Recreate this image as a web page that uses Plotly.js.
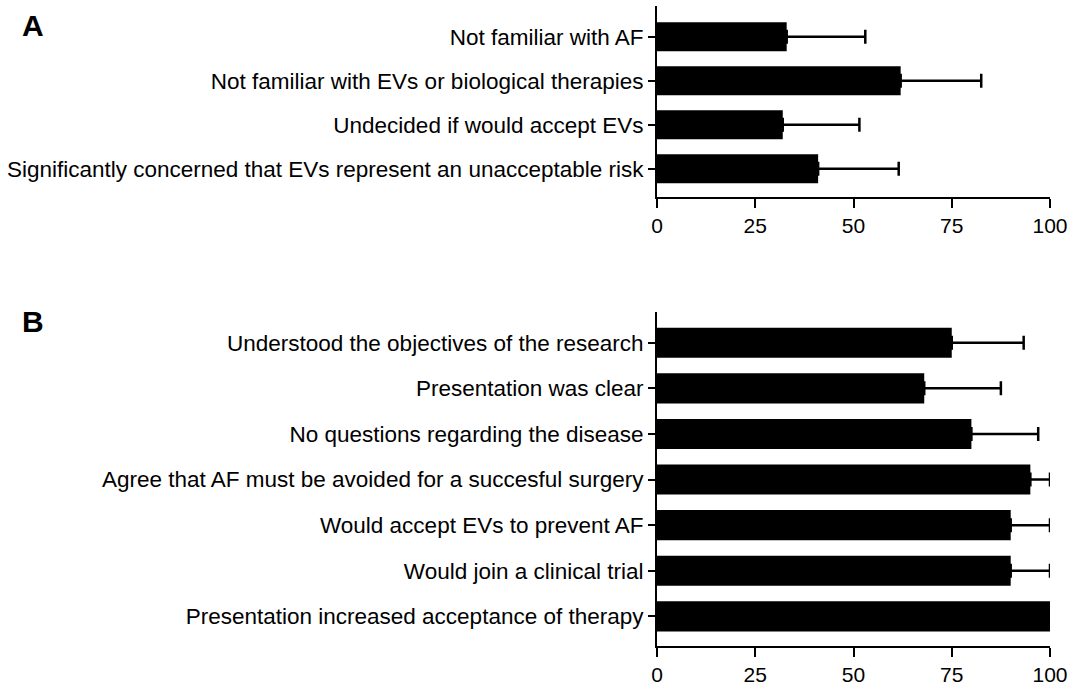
<!DOCTYPE html>
<html>
<head>
<meta charset="utf-8">
<script src="https://cdn.plot.ly/plotly-3.0.1.min.js"></script>
<style>html,body{margin:0;padding:0;background:#fff;}#chart{width:1074px;height:686px;}</style>
</head>
<body>
<div id="chart"></div>
<script>
// Panel A data
const catsA = [
  "Not familiar with AF",
  "Not familiar with EVs or biological therapies",
  "Undecided if would accept EVs",
  "Significantly concerned that EVs represent an unacceptable risk"
];
const valuesA = [33, 62, 32, 41];
const errorsA = [20, 20.5, 19.5, 20.5];

// Panel B data
const catsB = [
  "Understood the objectives of the research",
  "Presentation was clear",
  "No questions regarding the disease",
  "Agree that AF must be avoided for a succesful surgery",
  "Would accept EVs to prevent AF",
  "Would join a clinical trial",
  "Presentation increased acceptance of therapy"
];
const valuesB = [75, 68, 80, 95, 90, 90, 100];
const errorsB = [18.3, 19.5, 17, 5, 10, 10, 0];

const xTicks = [0, 25, 50, 75, 100];

const FAM = "'Liberation Sans', Arial, sans-serif";
const labelFont = {family: FAM, size: 22.5, color: "#000"};
const tickFont = {family: FAM, size: 21, color: "#000"};

function barTrace(cats, vals, errs, xa, ya) {
  return {
    type: "bar", orientation: "h",
    x: vals, y: cats, xaxis: xa, yaxis: ya,
    width: 0.66,
    marker: {color: "#000", line: {width: 0}},
    error_x: {type: "data", array: errs, symmetric: false, arrayminus: errs.map(() => 0),
              color: "#000", thickness: 2.5, width: 7},
    hoverinfo: "none", showlegend: false
  };
}

const xaxisBase = {
  range: [0, 100], tickvals: xTicks, ticktext: xTicks.map(String),
  showgrid: false, zeroline: false, showline: true, linecolor: "#000", linewidth: 2,
  ticks: "outside", ticklen: 9, tickwidth: 2, tickcolor: "#000", tickfont: tickFont, fixedrange: true
};
const yaxisBase = {
  type: "category", showgrid: false, zeroline: false, showline: true, linecolor: "#000", linewidth: 2,
  ticks: "outside", ticklen: 7, tickwidth: 2, tickcolor: "#000", tickfont: labelFont, fixedrange: true
};

const layout = {
  width: 1074, height: 686,
  margin: {l: 657, r: 24, t: 6, b: 40},
  paper_bgcolor: "#fff", plot_bgcolor: "#fff",
  font: labelFont,
  bargap: 0.34,
  xaxis: Object.assign({}, xaxisBase, {anchor: "y"}),
  yaxis: Object.assign({}, yaxisBase, {anchor: "x", domain: [0.7016, 1.0], range: [3.64, -0.7]}),
  xaxis2: Object.assign({}, xaxisBase, {anchor: "y2"}),
  yaxis2: Object.assign({}, yaxisBase, {anchor: "x2", domain: [0.0, 0.5223], range: [6.65, -0.68]}),
  annotations: [
    {text: "<b>A</b>", xref: "paper", yref: "paper", x: -1.621, y: 0.97, xanchor: "left", yanchor: "middle",
     showarrow: false, font: {family: FAM, size: 30, color: "#000"}},
    {text: "<b>B</b>", xref: "paper", yref: "paper", x: -1.621, y: 0.507, xanchor: "left", yanchor: "middle",
     showarrow: false, font: {family: FAM, size: 30, color: "#000"}}
  ]
};

Plotly.newPlot("chart", [
  barTrace(catsA, valuesA, errorsA, "x", "y"),
  barTrace(catsB, valuesB, errorsB, "x2", "y2")
], layout, {displayModeBar: false, staticPlot: true});
</script>
</body>
</html>
